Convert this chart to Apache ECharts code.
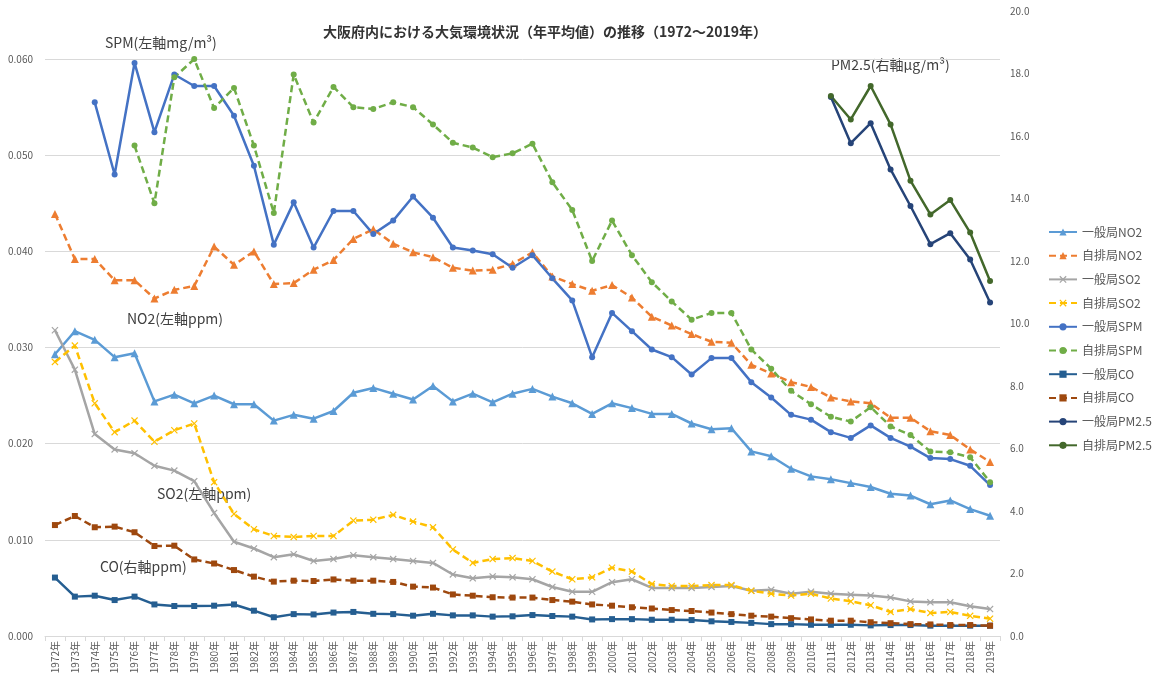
<!DOCTYPE html>
<html><head><meta charset="utf-8">
<script src="https://cdn.jsdelivr.net/npm/echarts@6/dist/echarts.min.js"></script>
<style>html,body{margin:0;padding:0;background:#fff}#c{width:1161px;height:674px}</style>
</head><body><div id="c"></div>
<script>
const years = ['1972年','1973年','1974年','1975年','1976年','1977年','1978年','1979年','1980年','1981年','1982年','1983年','1984年','1985年','1986年','1987年','1988年','1989年','1990年','1991年','1992年','1993年','1994年','1995年','1996年','1997年','1998年','1999年','2000年','2001年','2002年','2003年','2004年','2005年','2006年','2007年','2008年','2009年','2010年','2011年','2012年','2013年','2014年','2015年','2016年','2017年','2018年','2019年'];

const no2General = [0.0293,0.0317,0.0308,0.0290,0.0294,0.0244,0.0251,0.0242,0.0250,0.0241,0.0241,0.0224,
  0.0230,0.0226,0.0234,0.0253,0.0258,0.0252,0.0246,0.0260,0.0244,0.0252,0.0243,0.0252,
  0.0257,0.0249,0.0242,0.0231,0.0242,0.0237,0.0231,0.0231,0.0221,0.0215,0.0216,0.0192,
  0.0187,0.0174,0.0166,0.0163,0.0159,0.0155,0.0148,0.0146,0.0137,0.0141,0.0132,0.0125];
const no2Road = [0.0439,0.0392,0.0392,0.0370,0.0370,0.0351,0.0360,0.0364,0.0405,0.0386,0.0400,0.0366,
  0.0367,0.0381,0.0391,0.0413,0.0423,0.0408,0.0399,0.0394,0.0383,0.0380,0.0381,0.0387,
  0.0399,0.0374,0.0366,0.0359,0.0365,0.0352,0.0332,0.0323,0.0314,0.0306,0.0305,0.0282,
  0.0273,0.0264,0.0259,0.0248,0.0244,0.0242,0.0227,0.0227,0.0213,0.0209,0.0194,0.0181];
const so2General = [0.0318,0.0277,0.0210,0.0194,0.0190,0.0177,0.0172,0.0161,0.0128,0.0098,0.0091,0.0082,
  0.0085,0.0078,0.0080,0.0084,0.0082,0.0080,0.0078,0.0076,0.0064,0.0060,0.0062,0.0061,
  0.0059,0.0051,0.0046,0.0046,0.0056,0.0059,0.0050,0.0050,0.0050,0.0051,0.0052,0.0047,
  0.0048,0.0044,0.0046,0.0044,0.0043,0.0042,0.0040,0.0036,0.0035,0.0035,0.0031,0.0028];
const so2Road = [0.0285,0.0302,0.0242,0.0212,0.0224,0.0202,0.0214,0.0221,0.0160,0.0127,0.0111,0.0104,
  0.0103,0.0104,0.0104,0.0120,0.0121,0.0126,0.0119,0.0113,0.0090,0.0076,0.0080,0.0081,
  0.0078,0.0067,0.0059,0.0061,0.0071,0.0067,0.0054,0.0052,0.0052,0.0053,0.0053,0.0047,
  0.0044,0.0042,0.0044,0.0039,0.0036,0.0032,0.0025,0.0028,0.0024,0.0025,0.0021,0.0018];
const spmGeneral = [null,null,0.0555,0.0480,0.0596,0.0524,0.0584,0.0572,0.0572,0.0541,0.0489,0.0407,
  0.0451,0.0404,0.0442,0.0442,0.0418,0.0432,0.0457,0.0435,0.0404,0.0401,0.0397,0.0383,
  0.0396,0.0372,0.0349,0.0290,0.0336,0.0317,0.0298,0.0290,0.0272,0.0289,0.0289,0.0264,
  0.0248,0.0230,0.0225,0.0212,0.0206,0.0219,0.0206,0.0197,0.0185,0.0184,0.0177,0.0157];
const spmRoad = [null,null,null,null,0.0510,0.0450,0.0581,0.0600,0.0549,0.0570,0.0510,0.0440,
  0.0584,0.0534,0.0571,0.0550,0.0548,0.0555,0.0550,0.0532,0.0513,0.0508,0.0498,0.0502,
  0.0512,0.0472,0.0443,0.0390,0.0432,0.0396,0.0368,0.0348,0.0329,0.0336,0.0336,0.0298,
  0.0278,0.0255,0.0241,0.0228,0.0223,0.0238,0.0218,0.0209,0.0192,0.0191,0.0186,0.0160];
const coGeneral = [1.87,1.26,1.29,1.15,1.26,1.01,0.96,0.96,0.97,1.01,0.81,0.60,
  0.70,0.69,0.75,0.77,0.71,0.70,0.65,0.71,0.66,0.66,0.62,0.63,
  0.67,0.64,0.62,0.53,0.54,0.54,0.52,0.52,0.51,0.47,0.45,0.42,
  0.38,0.38,0.36,0.36,0.36,0.34,0.35,0.35,0.33,0.33,0.33,0.33];
const coRoad = [3.55,3.84,3.48,3.50,3.32,2.88,2.89,2.45,2.32,2.11,1.90,1.74,
  1.77,1.76,1.81,1.77,1.77,1.73,1.58,1.55,1.33,1.29,1.24,1.23,
  1.23,1.15,1.10,1.01,0.97,0.92,0.88,0.83,0.80,0.75,0.70,0.65,
  0.62,0.57,0.53,0.49,0.49,0.44,0.41,0.38,0.37,0.35,0.35,0.33];
const pm25General = [null,null,null,null,null,null,null,null,null,null,null,null,
  null,null,null,null,null,null,null,null,null,null,null,null,
  null,null,null,null,null,null,null,null,null,null,null,null,
  null,null,null,17.25,15.77,16.41,14.93,13.76,12.54,12.89,12.05,10.67];
const pm25Road = [null,null,null,null,null,null,null,null,null,null,null,null,
  null,null,null,null,null,null,null,null,null,null,null,null,
  null,null,null,null,null,null,null,null,null,null,null,null,
  null,null,null,17.28,16.53,17.60,16.37,14.57,13.49,13.95,12.91,11.36];

const leftTicks = ['0.000','0.010','0.020','0.030','0.040','0.050','0.060'];

const X_SYM = 'path://M0,1.2 L1.2,0 L5,3.8 L8.8,0 L10,1.2 L6.2,5 L10,8.8 L8.8,10 L5,6.2 L1.2,10 L0,8.8 L3.8,5 Z';

function mk(name, data, color, symbol, size, dashed, axis) {
  return {
    name, type: 'line', data, yAxisIndex: axis,
    symbol, symbolSize: size, showSymbol: true,
    lineStyle: { color, width: 2.5, type: dashed ? [7, 4] : 'solid' },
    itemStyle: { color },
    emphasis: { disabled: true },
    animation: false
  };
}

const chart = echarts.init(document.getElementById('c'), null, { renderer: 'canvas' });
chart.setOption({
  backgroundColor: '#ffffff',
  textStyle: { fontFamily: '"Noto Sans CJK JP", "Noto Sans", sans-serif' },
  title: {
    text: '大阪府内における大気環境状況（年平均値）の推移（1972～2019年）',
    left: 318, top: 20,
    textStyle: { fontSize: 14, fontWeight: 'bold', color: '#333333', fontFamily: '"Noto Sans CJK JP", sans-serif' }
  },
  legend: {
    orient: 'vertical', left: 1043, top: 221,
    itemWidth: 28, itemHeight: 9, itemGap: 11.7,
    textStyle: { fontSize: 12, color: '#595959', fontFamily: '"Noto Sans CJK JP", sans-serif', lineHeight: 12 },
    data: ['一般局NO2','自排局NO2','一般局SO2','自排局SO2','一般局SPM','自排局SPM','一般局CO','自排局CO','一般局PM2.5','自排局PM2.5']
  },
  grid: { left: 45, right: 161, top: 11, bottom: 38, outerBoundsMode: 'none' },
  xAxis: {
    type: 'category', data: years, boundaryGap: true,
    axisLine: { lineStyle: { color: '#d9d9d9' } },
    axisTick: { show: true, lineStyle: { color: '#d9d9d9' } },
    axisLabel: { rotate: 90, fontSize: 10, color: '#595959', interval: 0, margin: 5 }
  },
  yAxis: [
    {
      type: 'value', min: 0, max: 0.065, interval: 0.01,
      axisLine: { show: false }, axisTick: { show: false },
      axisLabel: {
        fontSize: 10, color: '#595959', margin: 12,
        formatter: v => { const i = Math.round(v * 100); return Math.abs(v * 100 - i) < 1e-6 ? leftTicks[i] : ''; }
      },
      splitLine: { show: true, showMaxLine: false, lineStyle: { color: '#d9d9d9', width: 1 } }
    },
    {
      type: 'value', min: 0, max: 20, interval: 2, position: 'right',
      axisLine: { show: false }, axisTick: { show: false },
      axisLabel: { fontSize: 10, color: '#595959', margin: 10, formatter: v => v.toFixed(1) },
      splitLine: { show: false }
    }
  ],
  graphic: [
    { type: 'text', left: 105, top: 36, style: { text: 'SPM(左軸mg/m³)', fontSize: 14, fill: '#404040', fontFamily: '"Noto Sans CJK JP", sans-serif' } },
    { type: 'text', left: 127, top: 312, style: { text: 'NO2(左軸ppm)', fontSize: 14, fill: '#404040', fontFamily: '"Noto Sans CJK JP", sans-serif' } },
    { type: 'text', left: 157, top: 487, style: { text: 'SO2(左軸ppm)', fontSize: 14, fill: '#404040', fontFamily: '"Noto Sans CJK JP", sans-serif' } },
    { type: 'text', left: 100, top: 560, style: { text: 'CO(右軸ppm)', fontSize: 14, fill: '#404040', fontFamily: '"Noto Sans CJK JP", sans-serif' } },
    { type: 'text', left: 831, top: 58, style: { text: 'PM2.5(右軸μg/m³)', fontSize: 14, fill: '#404040', fontFamily: '"Noto Sans CJK JP", sans-serif' } }
  ],
  series: [
    mk('一般局NO2', no2General, '#5B9BD5', 'triangle', 8, false, 0),
    mk('自排局NO2', no2Road, '#ED7D31', 'triangle', 8, true, 0),
    mk('一般局SO2', so2General, '#A5A5A5', X_SYM, 7, false, 0),
    mk('自排局SO2', so2Road, '#FFC000', X_SYM, 7, true, 0),
    mk('一般局SPM', spmGeneral, '#4472C4', 'circle', 6, false, 0),
    mk('自排局SPM', spmRoad, '#70AD47', 'circle', 6, true, 0),
    mk('一般局CO', coGeneral, '#255E91', 'rect', 6, false, 1),
    mk('自排局CO', coRoad, '#9E480E', 'rect', 6, true, 1),
    mk('一般局PM2.5', pm25General, '#264478', 'circle', 6, false, 1),
    mk('自排局PM2.5', pm25Road, '#43682B', 'circle', 6, false, 1)
  ]
});
</script>
</body></html>
